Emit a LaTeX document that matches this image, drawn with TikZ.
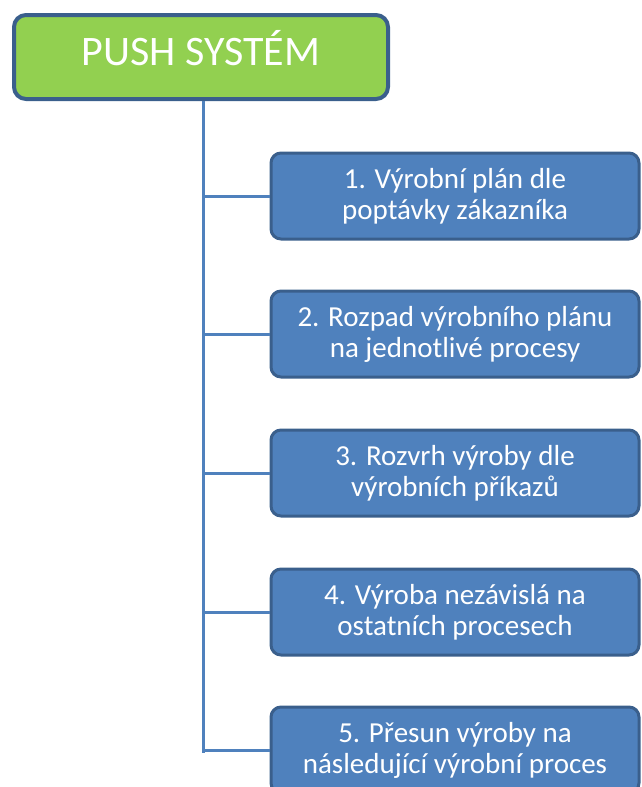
\documentclass[tikz,border=0pt]{standalone}
\usepackage{fontspec}
\setmainfont{Carlito}
\definecolor{headgreen}{HTML}{92D050}
\definecolor{stepblue}{HTML}{4F81BD}
\definecolor{edgeblue}{HTML}{3A5F8C}
\definecolor{linkblue}{HTML}{4F81BD}
\tikzset{
  headbox/.style={draw=edgeblue, line width=4pt, fill=headgreen, rounded corners=12pt,
    minimum width=374pt, minimum height=84pt, inner sep=0pt},
  headtext/.style={text=white, font=\fontsize{42}{46}\selectfont, inner sep=0pt},
  stepbox/.style={draw=edgeblue, line width=3pt, fill=stepblue, rounded corners=10pt,
    minimum width=368pt, minimum height=86pt, inner sep=0pt, text=white, align=center,
    font=\fontsize{29}{31}\selectfont},
  link/.style={draw=linkblue, line width=3pt},
}
\begin{document}
\begin{tikzpicture}[x=1pt,y=-1pt]
\useasboundingbox (0,0) rectangle (642,787);
% heading box
\node[headbox] (head) at (201,57) {};
\node[headtext] (headlabel) at (201,48) {PUSH SYSTÉM};
% process steps
\node[stepbox] (s1) at (455,196) {1. Výrobní plán dle\\poptávky zákazníka};
\node[stepbox] (s2) at (455,334) {2. Rozpad výrobního plánu\\na jednotlivé procesy};
\node[stepbox] (s3) at (455,473) {3. Rozvrh výroby dle\\výrobních příkazů};
\node[stepbox] (s4) at (455,612) {4. Výroba nezávislá na\\ostatních procesech};
\node[stepbox] (s5) at (455,750) {5. Přesun výroby na\\následující výrobní proces};
% spine and branches
\coordinate (top) at (203,101);
\coordinate (bottom) at (203,753);
\draw[link] (top) -- (bottom);
\foreach \s in {s1,s2,s3,s4,s5}
  \draw[link] (top |- \s.west) -- (\s.west);
\end{tikzpicture}
\end{document}
